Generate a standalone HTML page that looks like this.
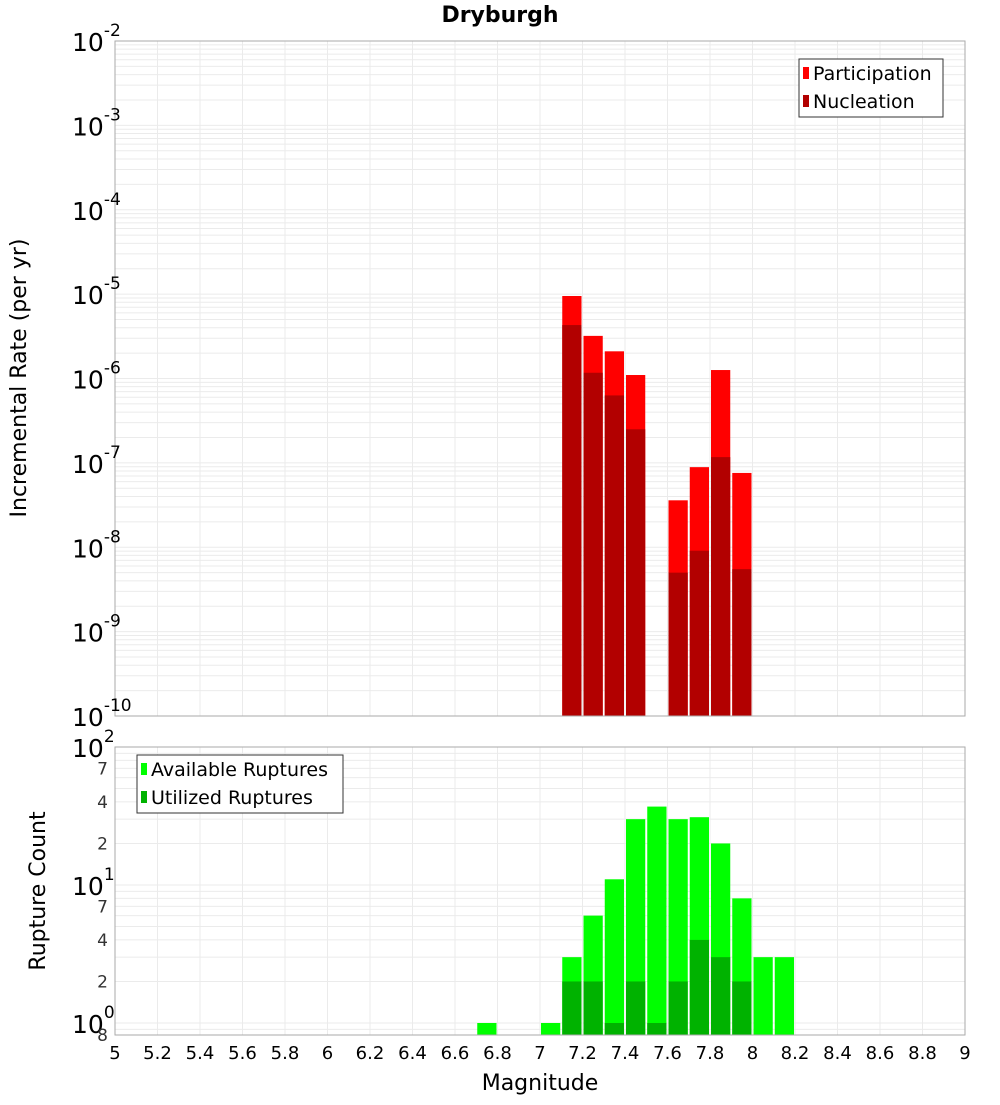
<!DOCTYPE html>
<html><head><meta charset="utf-8"><style>
body{margin:0;background:#fff;}
svg text{font-family:"DejaVu Sans","Liberation Sans",sans-serif;}
</style></head><body>
<svg id="c" width="1000" height="1100" xmlns="http://www.w3.org/2000/svg"></svg>
<script>
const binCenters=[6.75,7.05,7.15,7.25,7.35,7.45,7.55,7.65,7.75,7.85,7.95,8.05,8.15];
const availableCounts=[1,1,3,6,11,30,37,30,31,20,8,3,3];
const utilizedCounts=[0,0,2,2,1,2,1,2,4,3,2,0,0];
const rateMags=[7.15,7.25,7.35,7.45,7.65,7.75,7.85,7.95];
const participationRates=[9.5e-6,3.2e-6,2.1e-6,1.1e-6,3.6e-8,8.9e-8,1.26e-6,7.6e-8];
const nucleationRates=[4.3e-6,1.17e-6,6.3e-7,2.5e-7,5e-9,9.1e-9,1.17e-7,5.5e-9];
const xTickLabels=["5","5.2","5.4","5.6","5.8","6","6.2","6.4","6.6","6.8","7","7.2","7.4","7.6","7.8","8","8.2","8.4","8.6","8.8","9"];
const topExps=[-2,-3,-4,-5,-6,-7,-8,-9,-10];

const NS="http://www.w3.org/2000/svg";
const svg=document.getElementById('c');
function el(t,a,p){const e=document.createElementNS(NS,t);for(const k in a)e.setAttribute(k,a[k]);(p||svg).appendChild(e);return e;}
const X0=115,X1=965;
const xs=m=>X0+(m-5)/4*(X1-X0);
const T0=41,T1=716;
const yTop=v=>T0+(-2-Math.log10(v))/8*(T1-T0);
const B0=747,B1=1035,DEC=138,BZ=1023;
const yBot=v=>BZ-Math.log10(v)*DEC;

let t=el('text',{x:500,y:22,'text-anchor':'middle','font-size':22,'font-weight':'bold'});t.textContent='Dryburgh';


el('rect',{x:X0,y:T0,width:X1-X0,height:T1-T0,fill:'#fff',stroke:'none'});
el('rect',{x:X0,y:B0,width:X1-X0,height:B1-B0,fill:'#fff',stroke:'none'});
const g=el('g',{stroke:'#ebebeb','stroke-width':1});

for(let i=0;i<=20;i++){const x=xs(5+i*0.2);el('line',{x1:x,x2:x,y1:T0,y2:T1},g);el('line',{x1:x,x2:x,y1:B0,y2:B1},g);}
for(let e=-10;e<-2;e++)for(let k=1;k<10;k++){const y=yTop(k*Math.pow(10,e));el('line',{x1:X0,x2:X1,y1:y,y2:y},g);}
for(let e=-1;e<2;e++)for(let k=1;k<10;k++){const y=yBot(k*Math.pow(10,e));if(y>B0&&y<B1)el('line',{x1:X0,x2:X1,y1:y,y2:y},g);}

const W=(X1-X0)/40;
rateMags.forEach((m,i)=>{
  let r=el('rect',{x:xs(m)-W/2+1,y:yTop(participationRates[i]),width:W-2,height:T1-yTop(participationRates[i]),fill:'#ff0000'});
  
  r=el('rect',{x:xs(m)-W/2+1,y:yTop(nucleationRates[i]),width:W-2,height:T1-yTop(nucleationRates[i]),fill:'#b20000'});
  
});
binCenters.forEach((m,i)=>{
  const a=availableCounts[i];
  if(a>0){let r=el('rect',{x:xs(m)-W/2+1,y:yBot(a),width:W-2,height:B1-yBot(a),fill:'#00ff00'});
  }
  const u=utilizedCounts[i];
  if(u>0){let r=el('rect',{x:xs(m)-W/2+1,y:yBot(u),width:W-2,height:B1-yBot(u),fill:'#00b200'});
  }
});
el('rect',{x:X0,y:T0,width:X1-X0,height:T1-T0,fill:'none',stroke:'#aaa'});
el('rect',{x:X0,y:B0,width:X1-X0,height:B1-B0,fill:'none',stroke:'#aaa'});

topExps.forEach(e=>{
  const y=yTop(Math.pow(10,e));
  const tx=el('text',{x:72,y:y+10,'font-size':25});
  
  tx.textContent='10';
  const s=el('tspan',{dy:-15,'font-size':17},tx);s.textContent=String(e);
});
[[100,'2'],[10,'1'],[1,'0']].forEach(([v,e])=>{
  const y=yBot(v);
  const tx=el('text',{x:72,y:y+10,'font-size':25});
  
  tx.textContent='10';
  const s=el('tspan',{dy:-15,'font-size':17},tx);s.textContent=e;
});
[[70,'7'],[40,'4'],[20,'2'],[7,'7'],[4,'4'],[2,'2'],[0.8,'8']].forEach(([v,l])=>{
  const tx=el('text',{x:108,y:Math.min(yBot(v)+6,1041),'font-size':17,'text-anchor':'end',fill:'#333'});
  
  tx.textContent=l;
});
xTickLabels.forEach(l=>{
  const tx=el('text',{x:xs(parseFloat(l)),y:1059,'font-size':18,'text-anchor':'middle'});
  
  tx.textContent=l;
});
t=el('text',{x:540,y:1090,'font-size':22,'text-anchor':'middle'});t.textContent='Magnitude';

t=el('text',{x:0,y:0,'font-size':22,'text-anchor':'middle',transform:'translate(26,378) rotate(-90)'});t.textContent='Incremental Rate (per yr)';

t=el('text',{x:0,y:0,'font-size':22,'text-anchor':'middle',transform:'translate(45,891) rotate(-90)'});t.textContent='Rupture Count';


function legend(x,y,w,items,name){
  const lg=el('g',{});
  
  el('rect',{x:x,y:y,width:w,height:items.length*28+2,fill:'#fff',stroke:'#333'},lg);
  items.forEach(([c,l],i)=>{
    const r=el('rect',{x:x+4,y:y+8+i*28,width:6,height:12,fill:c},lg);
    
    const tx=el('text',{x:x+14,y:y+21+i*28,'font-size':19},lg);
    
    tx.textContent=l;
  });
}
legend(799,59,144,[['#ff0000','Participation'],['#b20000','Nucleation']],'legend-top');
legend(137,755,206,[['#00ff00','Available Ruptures'],['#00b200','Utilized Ruptures']],'legend-bottom');
</script>
</body></html>
